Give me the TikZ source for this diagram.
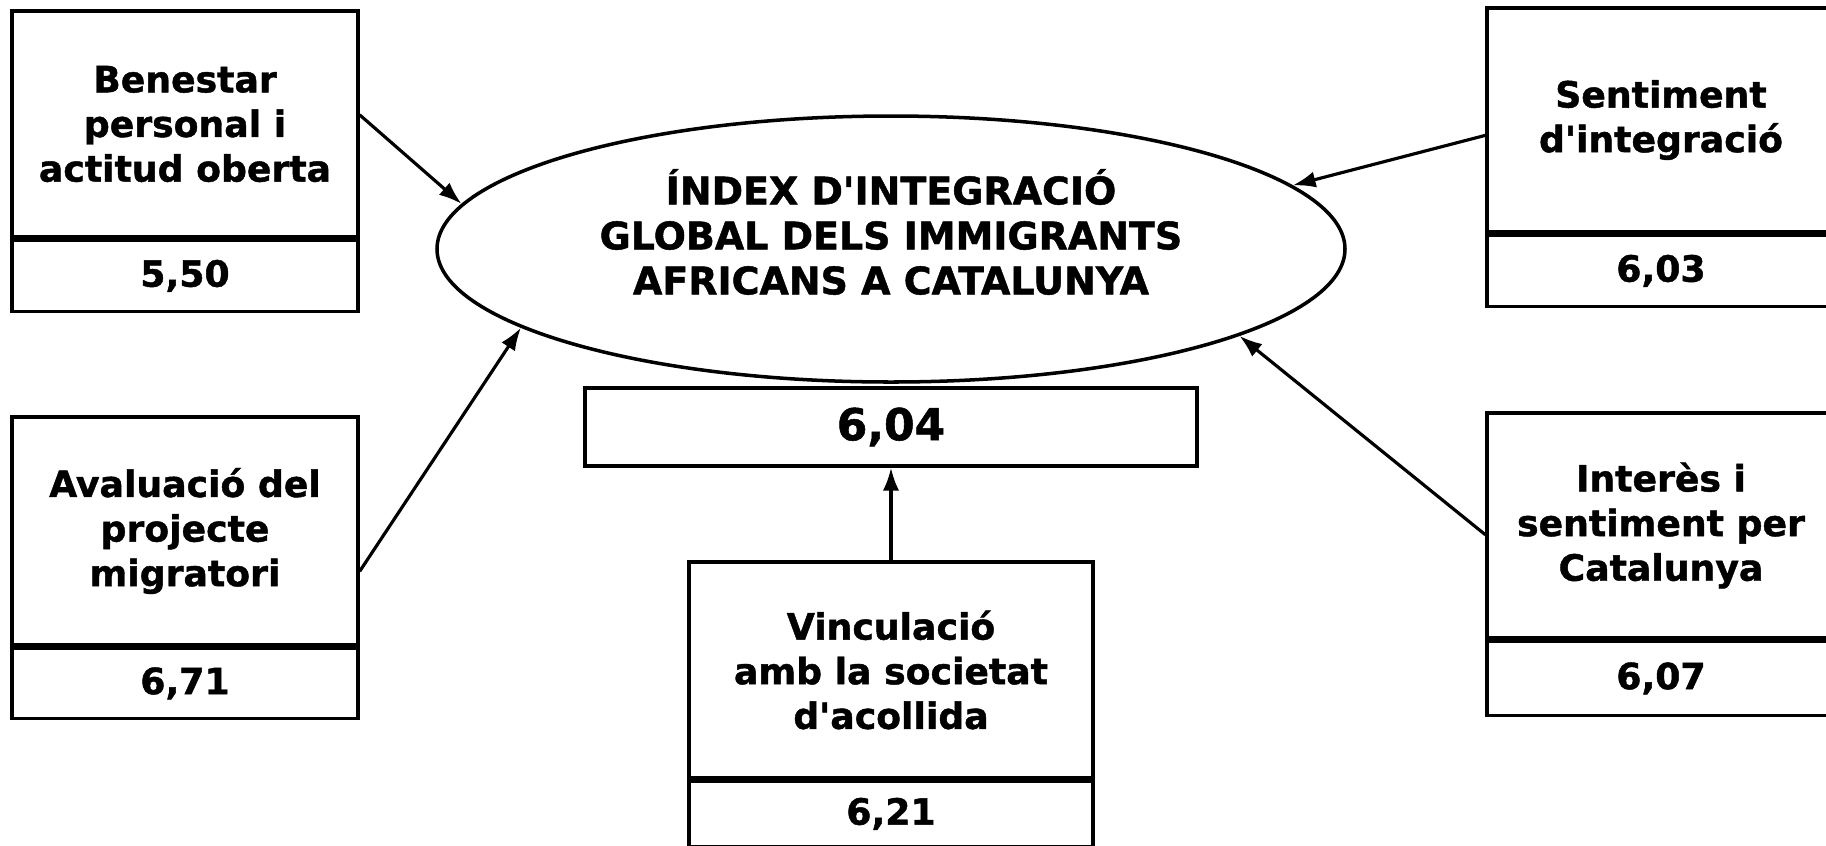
\documentclass[tikz,border=0pt]{standalone}
\usepackage{fontspec}
\setmainfont{DejaVu Sans}[Ligatures=TeXOff, BoldFeatures={FakeBold=1.2}]
\usetikzlibrary{positioning,shapes.geometric,arrows.meta}

\begin{document}
\begin{tikzpicture}[
    factor/.style={draw, line width=0.95pt, minimum width=3.46cm, inner sep=0pt, align=center,
      font=\bfseries\fontsize{10.3}{12.7}\selectfont},
    value/.style={draw, line width=0.95pt, minimum width=3.46cm, minimum height=0.71cm, inner sep=0pt,
      font=\bfseries\fontsize{10.3}{12.7}\selectfont},
    sepline/.style={line width=2pt},
    link/.style={line width=0.9pt, -{Latex[length=6.5pt,width=4.6pt]}}
  ]
  % Page
  \clip (0,0) rectangle (18.26,-8.45);
  \fill[white] (0,0) rectangle (18.26,-8.45);

  % Global index
  \node[ellipse, draw, line width=1pt, minimum width=9.08cm, minimum height=2.66cm, inner sep=0pt] (idx) at (8.91,-2.49) {};
  \node[align=center, font=\bfseries\fontsize{10.8}{12.8}\selectfont] (idxlabel) at ([yshift=0.17cm]idx.center)
    {ÍNDEX D'INTEGRACIÓ\\GLOBAL DELS IMMIGRANTS\\AFRICANS A CATALUNYA};
  \node[draw, line width=0.95pt, minimum width=6.12cm, minimum height=0.78cm, inner sep=0pt,
    font=\bfseries\fontsize{12.5}{14}\selectfont] (tot) at (8.91,-4.27) {6,04};

  % Left boxes
  \node[factor, minimum height=2.26cm] (b1) at (1.85,-1.24) {Benestar\\personal i\\actitud oberta};
  \node[value, below=0pt of b1] (v1) {5,50};
  \draw[sepline] (v1.north west) -- (v1.north east);

  \node[factor, minimum height=2.28cm] (b3) at (1.85,-5.31) {Avaluació del\\projecte\\migratori};
  \node[value, minimum height=0.70cm, below=0pt of b3] (v3) {6,71};
  \draw[sepline] (v3.north west) -- (v3.north east);

  % Right boxes
  \node[factor, minimum width=3.48cm, minimum height=2.24cm] (b2) at (16.61,-1.20) {Sentiment\\d'integració};
  \node[value, minimum width=3.48cm, below=0pt of b2] (v2) {6,03};
  \draw[sepline] (v2.north west) -- (v2.north east);

  \node[factor, minimum width=3.48cm, minimum height=2.25cm] (b4) at (16.61,-5.255) {Interès i\\sentiment per\\Catalunya};
  \node[value, minimum width=3.48cm, minimum height=0.74cm, below=0pt of b4] (v4) {6,07};
  \draw[sepline] (v4.north west) -- (v4.north east);

  % Bottom box
  \node[factor, minimum width=4.04cm, minimum height=2.16cm] (b5) at (8.91,-6.70) {Vinculació\\amb la societat\\d'acollida};
  \node[value, minimum width=4.04cm, minimum height=0.65cm, below=0pt of b5] (v5) {6,21};
  \draw[sepline] (v5.north west) -- (v5.north east);

  % Arrows
  \draw[link] (b1.3) -- (idx.174);
  \draw[link] (b3.-13) -- (idx.192);
  \draw[link] (b2.185) -- (idx.9);
  \draw[link] (b4.183) -- (idx.-14);
  \draw[link] (b5.north) -- (tot.south);
\end{tikzpicture}
\end{document}
